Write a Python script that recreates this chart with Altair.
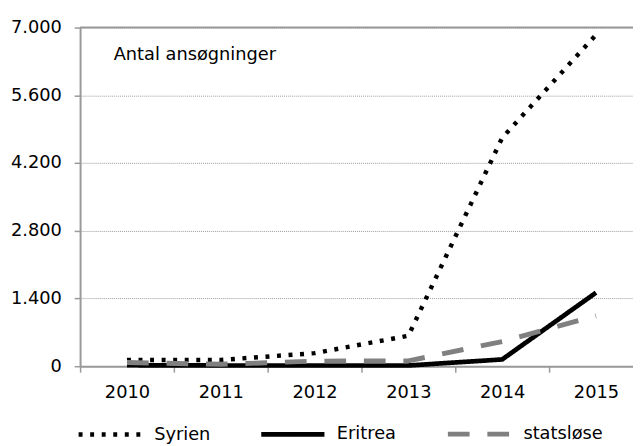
import altair as alt
import pandas as pd

years = ["2010", "2011", "2012", "2013", "2014", "2015"]
syrien = [130, 130, 270, 630, 4720, 6850]
eritrea = [20, 15, 15, 15, 140, 1520]
statslose = [75, 40, 105, 110, 510, 1040]
series = ["Syrien", "Eritrea", "statsløse"]
y_ticks = [0, 1400, 2800, 4200, 5600, 7000]
annotation = ["Antal ansøgninger"]

rows = []
for name, vals in zip(series, [syrien, eritrea, statslose]):
    for yr, v in zip(years, vals):
        rows.append({"year": yr, "value": v, "series": name})
df = pd.DataFrame(rows)

FONT = "DejaVu Sans"
AX = "#999999"

lines = alt.Chart(df).mark_line().encode(
    x=alt.X(
        "year:O",
        scale=alt.Scale(type="band", paddingInner=0, paddingOuter=0),
        axis=alt.Axis(title=None, labelAngle=0, tickBand="extent", grid=False,
                      labelPadding=12, tickSize=6),
    ),
    y=alt.Y(
        "value:Q",
        scale=alt.Scale(domain=[0, 7000], nice=False),
        axis=alt.Axis(title=None, values=y_ticks, tickSize=6, labelPadding=13,
                      labelExpr="replace(format(datum.value, ','), ',', '.')",
                      grid=True, gridDash=[1, 1], gridColor="#9a9a9a", gridWidth=1),
    ),
    color=alt.Color("series:N", title=None,
                    scale=alt.Scale(domain=series, range=["#000000", "#000000", "#808080"])),
    strokeDash=alt.StrokeDash("series:N", title=None,
                              scale=alt.Scale(domain=series, range=[[4, 7.7], [1, 0], [22, 18]])),
    strokeWidth=alt.StrokeWidth("series:N", title=None,
                                scale=alt.Scale(domain=series, range=[4.5, 5, 6])),
)

top_rule = alt.Chart(pd.DataFrame({"v": [7000]})).mark_rule(color=AX, strokeWidth=2).encode(
    y="v:Q"
)

label = alt.Chart(pd.DataFrame({"t": annotation})).mark_text(
    align="left", baseline="alphabetic", fontSize=18, font=FONT, color="#000000"
).encode(text="t:N", x=alt.value(34), y=alt.value(33))

chart = alt.layer(lines, top_rule, label).properties(
    width=570,
    height=343,
    autosize=alt.AutoSizeParams(type="none"),
    padding={"left": 73, "top": 17, "right": -10, "bottom": 78},
).configure_view(stroke=None).configure_axis(
    domainColor=AX, domainWidth=2, tickColor=AX, tickWidth=1.5,
    labelFont=FONT, labelFontSize=18, labelColor="#000000",
).configure_legend(
    orient="none", direction="horizontal", legendX=-4, legendY=377,
    symbolType="stroke", symbolSize=4096, labelFont=FONT, labelFontSize=18,
    labelColor="#000000", labelOffset=10, columnPadding=42, padding=0,
)

chart.save("out.html", embed_options={"renderer": "svg", "actions": False})
